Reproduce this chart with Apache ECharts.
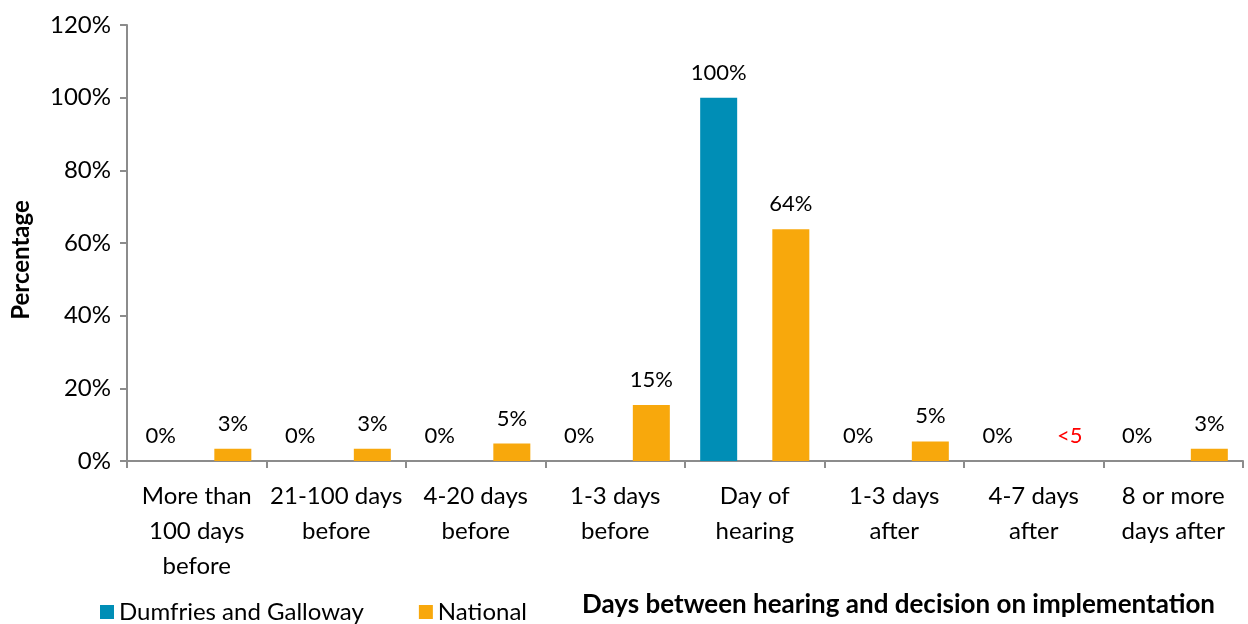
<!DOCTYPE html>
<html>
<head>
<meta charset="utf-8">
<script src="https://cdn.jsdelivr.net/npm/echarts@6/dist/echarts.min.js"></script>
<style>html,body{margin:0;padding:0;background:#fff}#c{width:1248px;height:624px}</style>
</head>
<body>
<div id="c"></div>
<script>
const categories = ['More than\n100 days\nbefore', '21-100 days\nbefore', '4-20 days\nbefore', '1-3 days\nbefore', 'Day of\nhearing', '1-3 days\nafter', '4-7 days\nafter', '8 or more\ndays after'];
const dumfriesValues = [0, 0, 0, 0, 100, 0, 0, 0];
const nationalValues = [3.4, 3.4, 4.8, 15.4, 63.8, 5.4, 0, 3.4];
const nationalLabels = ['3%', '3%', '5%', '15%', '64%', '5%', '<5', '3%'];
const yTicks = [0, 20, 40, 60, 80, 100, 120];

const FONT = 'Lato';
const chart = echarts.init(document.getElementById('c'));
chart.setOption({
  animation: false,
  textStyle: { fontFamily: FONT },
  grid: { left: 127, right: 5, top: 25, bottom: 163 },
  legend: {
    left: 95, top: 595, itemWidth: 14, itemHeight: 14, itemGap: 55,
    icon: 'rect',
    textStyle: { fontSize: 24, color: '#000', fontFamily: FONT },
    data: ['Dumfries and Galloway', 'National']
  },
  graphic: [{
    type: 'text', left: 582, top: 592,
    style: { text: 'Days between hearing and decision on implementation', font: 'bold 26px ' + FONT, fill: '#000' }
  }],
  xAxis: {
    type: 'category', data: categories,
    axisLine: { lineStyle: { color: '#8c8c8c', width: 2 } },
    axisTick: { show: true, length: 7, lineStyle: { color: '#8c8c8c', width: 2 } },
    axisLabel: { color: '#000', fontSize: 24, lineHeight: 35, margin: 18, interval: 0, fontFamily: FONT }
  },
  yAxis: {
    type: 'value', min: 0, max: 120, interval: 20,
    name: 'Percentage', nameLocation: 'middle', nameGap: 94, nameRotate: 90,
    nameTextStyle: { fontSize: 24, fontWeight: 'bold', color: '#000', fontFamily: FONT, padding: [0, 34, 0, 0] },
    axisLine: { show: true, lineStyle: { color: '#8c8c8c', width: 2 } },
    axisTick: { show: true, length: 7, lineStyle: { color: '#8c8c8c', width: 2 } },
    splitLine: { show: false },
    axisLabel: { color: '#000', fontSize: 24, margin: 16, formatter: v => yTicks.includes(v) ? v + '%' : '', fontFamily: FONT }
  },
  series: [
    {
      name: 'Dumfries and Galloway', type: 'bar', barWidth: 37, barGap: '95%',
      itemStyle: { color: '#008EB6' },
      label: { show: true, position: 'top', distance: 14, fontSize: 22, color: '#000', fontFamily: FONT, formatter: p => Math.round(p.value) + '%' },
      data: dumfriesValues
    },
    {
      name: 'National', type: 'bar', barWidth: 37,
      itemStyle: { color: '#F8A80C' },
      label: { show: true, position: 'top', distance: 14, fontSize: 22, color: '#000', fontFamily: FONT },
      data: nationalValues.map((v, i) => ({
        value: v,
        label: { formatter: nationalLabels[i], color: nationalLabels[i].startsWith('<') ? '#FF0000' : '#000' }
      }))
    }
  ]
});
</script>
</body>
</html>
